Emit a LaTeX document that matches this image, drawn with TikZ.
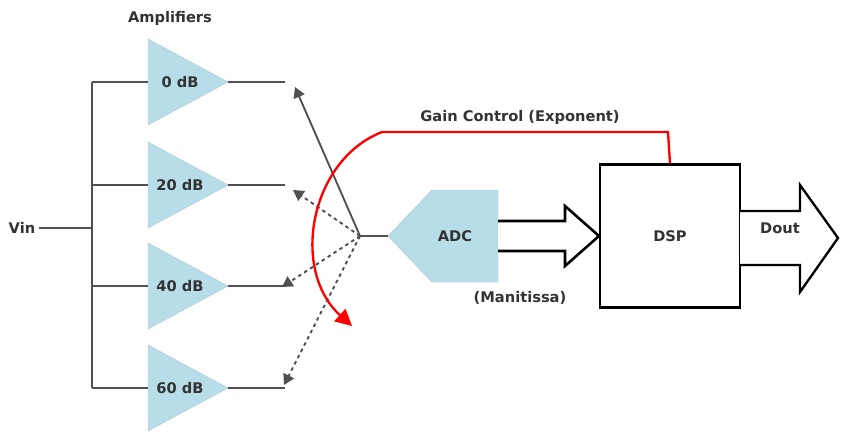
\documentclass[tikz,border=0pt]{standalone}
\usepackage{fontspec}
\setmainfont{DejaVu Sans}
\usetikzlibrary{positioning,arrows.meta}
\definecolor{ampfill}{HTML}{B7DDE8}
\definecolor{wire}{HTML}{505050}
\tikzset{%
  wire/.style={line width=1.6pt,draw=wire},
  amp/.style={fill=ampfill,draw=ampfill!80!gray},
  lbl/.style={font=\bfseries\fontsize{12.5}{14}\selectfont,text=black!80},
  sel/.style={wire,-{Triangle[length=9pt,width=10pt]}},
}
\begin{document}
\begin{tikzpicture}[x=0.03cm,y=-0.03cm]
      \useasboundingbox (0,0) rectangle (844,439);

      \node[lbl] (vin) at (22,228) {Vin};
      \coordinate (bus) at (92,228);
      \draw[wire] (vin.east) -- (bus);
      \draw[wire] (92,82) -- (92,388);
      \node[lbl] (title) at (170,18) {Amplifiers};

      % amplifiers
      \foreach \y/\g in {82/0,185/20,286/40,388/60}{
        \draw[amp] (148,\y-43) -- (228,\y) -- (148,\y+43) -- cycle;
        \node[lbl] (a\g) at (180,\y) {\g\ dB};
        \coordinate (in\g) at (148,\y);
        \coordinate (out\g) at (285,\y);
        \draw[wire] (92,\y) -- (in\g);
        \draw[wire] (228,\y) -- (out\g);
      }

      % switch
      \coordinate (pivot) at (360,236);
      \draw[sel] (pivot) -- (295,87);
      \draw[sel,dashed] (pivot) -- (293,190);
      \draw[sel,dashed] (pivot) -- (282,287);
      \draw[sel,dashed] (pivot) -- (284,385);

      \draw[amp] (388,236) -- (432,190) -- (498,190) -- (498,282) -- (432,282) -- cycle;
      \node[lbl] (adc) at (455,236) {ADC};
      \draw[wire] (pivot) -- (388,236);

      \node[draw,line width=1.8pt,minimum width=140*0.03cm,minimum height=143*0.03cm] (dsp) at (670,236) {};
      \node[lbl] at (dsp) {DSP};

      % data arrows
      \draw[line width=2.2pt,fill=white] (498,221) -- (565,221) -- (565,206) -- (dsp.west) -- (565,266) -- (565,251) -- (498,251);
      \draw[line width=2pt,fill=white] (740,211) -- (800,211) -- (800,185) -- (838,238) -- (800,292) -- (800,265) -- (740,265);
      \node[lbl] (dout) at (780,228) {Dout};

      % gain control
      \draw[red,line width=2pt,-{Triangle[length=14pt,width=14pt]}] (dsp.north) -- (668,132) -- (382,132)
        .. controls (310,160) and (290,270) .. (352,326);
      \node[lbl] (gain) at (520,117) {Gain Control (Exponent)};
      \node[lbl] (mant) at (520,298) {(Manitissa)};
\end{tikzpicture}
\end{document}
